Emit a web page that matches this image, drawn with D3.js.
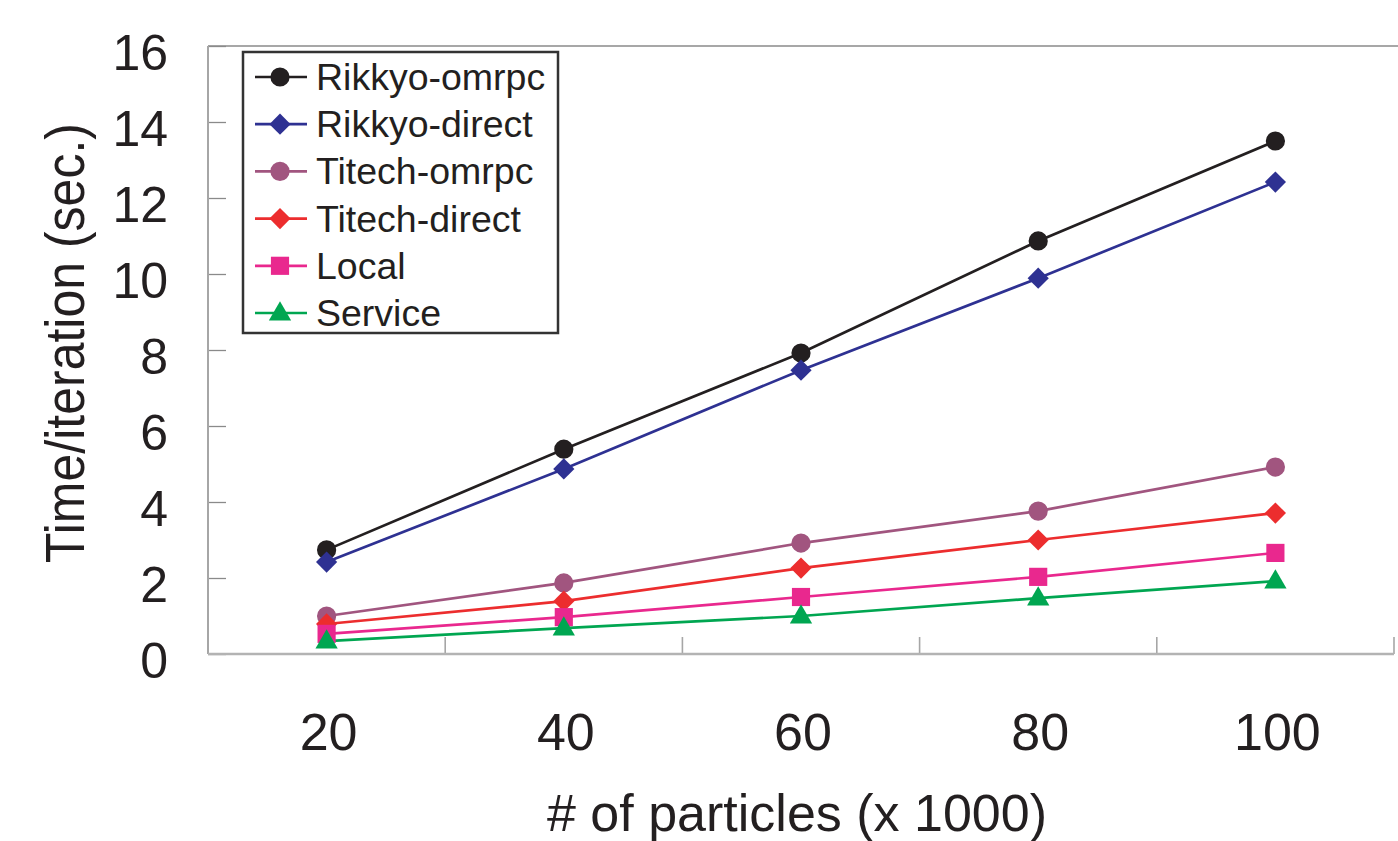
<!DOCTYPE html>
<html>
<head>
<meta charset="utf-8">
<script src="https://cdn.jsdelivr.net/npm/d3@7"></script>
<style>
  html, body { margin: 0; padding: 0; background: #fff; }
  svg { display: block; }
  text { font-family: "Liberation Sans", Arial, sans-serif; fill: #231f20; }
</style>
</head>
<body>
<svg id="chart" width="1398" height="841"></svg>
<script>
// ---- Data ----
const categories = ["20", "40", "60", "80", "100"];
const seriesNames = ["Rikkyo-omrpc", "Rikkyo-direct", "Titech-omrpc", "Titech-direct", "Local", "Service"];
const rikkyoOmrpc  = [2.74, 5.39, 7.92, 10.87, 13.50];
const rikkyoDirect = [2.42, 4.87, 7.47, 9.89, 12.42];
const titechOmrpc  = [1.00, 1.87, 2.92, 3.76, 4.92];
const titechDirect = [0.79, 1.39, 2.26, 3.00, 3.71];
const local        = [0.53, 0.97, 1.50, 2.03, 2.66];
const service      = [0.34, 0.68, 1.00, 1.47, 1.92];
const yTicks = [0, 2, 4, 6, 8, 10, 12, 14, 16];
const xTitle = "# of particles (x 1000)";
const yTitle = "Time/iteration (sec.)";

// styles per series
const seriesValues = [rikkyoOmrpc, rikkyoDirect, titechOmrpc, titechDirect, local, service];
const colors = ["#231f20", "#2e3192", "#a1557f", "#ec2d2e", "#e9288e", "#00a651"];
const shapes = ["circle", "diamond", "circle", "diamond", "square", "triangle"];

const series = seriesNames.map((n, i) => ({ name: n, values: seriesValues[i], color: colors[i], shape: shapes[i] }));

// ---- Layout ----
const svg = d3.select("#chart");
const plotL = 208, plotR = 1394, plotT = 46, plotB = 654;

const x = d3.scaleBand().domain(categories).range([plotL, plotR]).paddingInner(0).paddingOuter(0);
const y = d3.scaleLinear().domain([0, 16]).range([plotB, plotT]);

// top border line
svg.append("line").attr("x1", plotL).attr("x2", 1398).attr("y1", plotT).attr("y2", plotT)
  .attr("stroke", "#8a8a8a").attr("stroke-width", 1.5);

// y axis
const yAxis = d3.axisLeft(y).tickValues(yTicks).tickSizeInner(-18).tickSizeOuter(0).tickPadding(40).tickFormat(d3.format("d"));
const yg = svg.append("g").attr("transform", `translate(${plotL},0)`).call(yAxis);
yg.select(".domain").remove();
yg.selectAll(".tick line").attr("stroke", "#8a8a8a").attr("stroke-width", 1.3);
yg.selectAll(".tick text").attr("font-size", 50).attr("dy", "0.46em")
  .attr("font-family", "'Liberation Sans', Arial, sans-serif").attr("fill", "#231f20");
svg.append("line").attr("x1", plotL).attr("x2", plotL).attr("y1", plotT).attr("y2", plotB)
  .attr("stroke", "#a6a6a6").attr("stroke-width", 2);

// x axis (ticks at band boundaries, pointing up)
const boundaries = categories.map(c => x(c)).concat([x(categories[categories.length - 1]) + x.bandwidth()]);
svg.append("g").selectAll("line").data(boundaries.slice(1)).join("line")
  .attr("x1", d => d).attr("x2", d => d).attr("y1", plotB).attr("y2", plotB - 17)
  .attr("stroke", "#a6a6a6").attr("stroke-width", 1.6);
svg.append("line").attr("x1", plotL).attr("x2", plotR).attr("y1", plotB).attr("y2", plotB)
  .attr("stroke", "#b3b3b3").attr("stroke-width", 2.5);

svg.append("g").selectAll("text").data(categories).join("text")
  .attr("x", d => x(d) + x.bandwidth() / 2 + 2).attr("y", 750)
  .attr("text-anchor", "middle").attr("font-size", 52).text(d => d);

// axis titles
svg.append("text").attr("transform", `translate(797,831)`)
  .attr("text-anchor", "middle").attr("font-size", 52).text(xTitle);
svg.append("text").attr("transform", `translate(84,343) scale(1.12,1) rotate(-90)`)
  .attr("text-anchor", "middle").attr("font-size", 50).text(yTitle);

// ---- Series ----
const line = d3.line().x((d, i) => x(categories[i]) + x.bandwidth() / 2).y(d => y(d));

function symbolPath(shape) {
  if (shape === "circle") return d3.symbol(d3.symbolCircle, 290)();
  if (shape === "diamond") return d3.symbol(d3.symbolSquare, 225)();
  if (shape === "square") return d3.symbol(d3.symbolSquare, 330)();
  return d3.symbol(d3.symbolTriangle, 215)();
}
function symbolTransform(shape, cx, cy) {
  if (shape === "diamond") return `translate(${cx},${cy}) rotate(45)`;
  if (shape === "triangle") return `translate(${cx},${cy + 1})`;
  return `translate(${cx},${cy})`;
}

const sg = svg.append("g");
series.forEach(s => {
  sg.append("path").datum(s.values).attr("d", line)
    .attr("fill", "none").attr("stroke", s.color).attr("stroke-width", 2.7);
});
series.forEach(s => {
  sg.append("g").selectAll("path").data(s.values).join("path")
    .attr("d", symbolPath(s.shape))
    .attr("transform", (d, i) => symbolTransform(s.shape, x(categories[i]) + x.bandwidth() / 2, y(d)))
    .attr("fill", s.color);
});

// ---- Legend ----
const lg = svg.append("g");
lg.append("rect").attr("x", 243).attr("y", 52).attr("width", 315).attr("height", 281)
  .attr("fill", "#fff").attr("stroke", "#333").attr("stroke-width", 2.5);
const rowY = d3.scalePoint().domain(seriesNames).range([77, 313]);
series.forEach(s => {
  const cy = rowY(s.name);
  lg.append("line").attr("x1", 255).attr("x2", 307).attr("y1", cy).attr("y2", cy)
    .attr("stroke", s.color).attr("stroke-width", 2.7);
  lg.append("path").attr("d", symbolPath(s.shape)).attr("transform", symbolTransform(s.shape, 280, cy))
    .attr("fill", s.color);
  lg.append("text").attr("x", 316).attr("y", cy + 13).attr("font-size", 37.5).text(s.name);
});
</script>
</body>
</html>
